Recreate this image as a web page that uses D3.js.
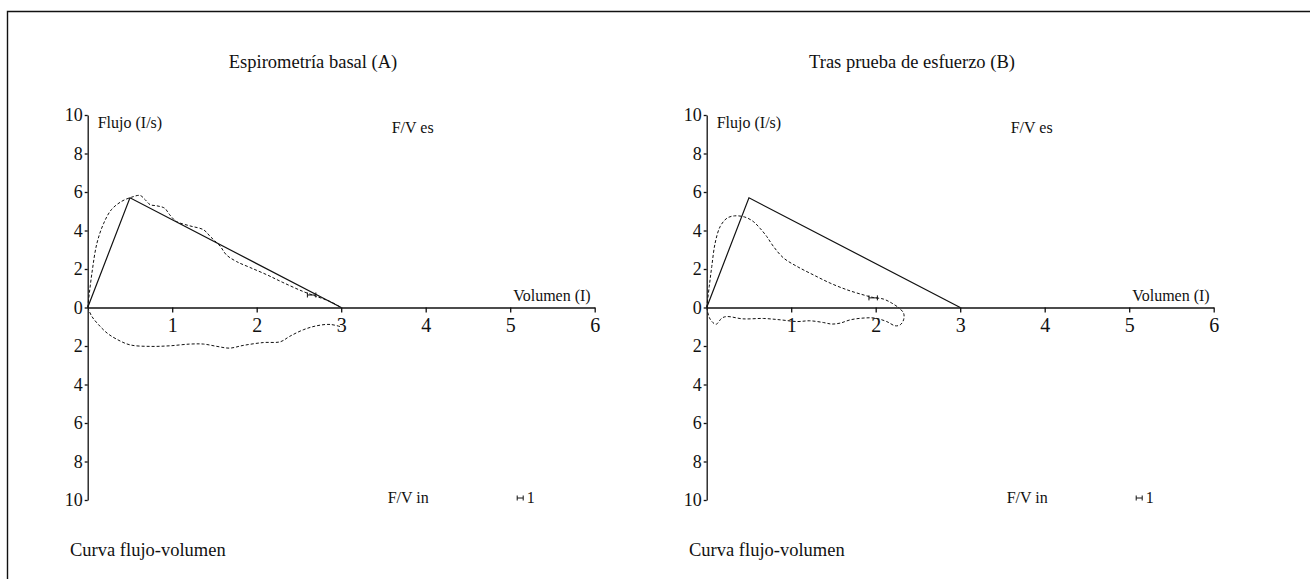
<!DOCTYPE html>
<html>
<head>
<meta charset="utf-8">
<script src="https://cdn.jsdelivr.net/npm/d3@7"></script>
<style>
  body { margin: 0; background: #fff; }
  text { font-family: "Liberation Serif", "Times New Roman", serif; fill: #111; }
</style>
</head>
<body>
<svg id="chart" width="1310" height="579"></svg>
<script>
(function (d3) {
    "use strict";

    /***** Données *****/

    const panelTitles = ["Espirometría basal (A)", "Tras prueba de esfuerzo (B)"];
    const volumeTicks = [1, 2, 3, 4, 5, 6];
    const flowTicks = [10, 8, 6, 4, 2, 0, -2, -4, -6, -8, -10];

    // courbe théorique (trait plein)
    const predictedA = [[0, 0], [0.5, 5.7], [3, 0]];
    const predictedB = [[0, 0], [0.5, 5.7], [3, 0]];

    // courbes mesurées (pointillés) : expiration puis inspiration
    const expiratoryA = [[0, 0], [0.05, 1.79], [0.11, 3.35], [0.19, 4.38], [0.28, 5.08], [0.40, 5.51],
        [0.52, 5.73], [0.62, 5.82], [0.68, 5.6], [0.74, 5.34], [0.82, 5.28], [0.91, 5.16], [0.97, 4.82],
        [1.05, 4.47], [1.21, 4.24], [1.37, 4.04], [1.45, 3.69], [1.57, 3.17], [1.64, 2.74], [1.76, 2.39],
        [1.92, 2.08], [2.12, 1.70], [2.31, 1.30], [2.55, 0.83], [2.71, 0.57], [2.87, 0.31], [2.99, 0.02]];
    const inspiratoryA = [[0, 0], [0.05, -0.47], [0.13, -0.90], [0.23, -1.33], [0.34, -1.64], [0.50, -1.94],
        [0.74, -2.02], [0.97, -1.99], [1.21, -1.90], [1.37, -1.90], [1.53, -2.02], [1.68, -2.11],
        [1.84, -1.97], [2.08, -1.82], [2.28, -1.78], [2.39, -1.50], [2.55, -1.16], [2.71, -0.95],
        [2.87, -0.88], [3.01, -1.02]];

    const expiratoryB = [[0, 0], [0.03, 1.09], [0.06, 2.13], [0.10, 3.35], [0.16, 4.21], [0.24, 4.64],
        [0.33, 4.76], [0.45, 4.70], [0.55, 4.47], [0.63, 4.12], [0.71, 3.69], [0.79, 3.17], [0.91, 2.57],
        [1.07, 2.13], [1.26, 1.70], [1.46, 1.27], [1.66, 0.92], [1.85, 0.66], [1.97, 0.52], [2.09, 0.44],
        [2.19, 0.23], [2.27, 0]];
    const inspiratoryB = [[0, 0], [0.04, -0.6], [0.11, -0.87], [0.18, -0.55], [0.24, -0.47], [0.43, -0.59],
        [0.67, -0.57], [0.87, -0.64], [1.07, -0.73], [1.22, -0.69], [1.38, -0.78], [1.48, -0.86],
        [1.58, -0.81], [1.70, -0.64], [1.85, -0.55], [1.99, -0.55], [2.13, -0.73], [2.23, -0.95],
        [2.29, -0.90], [2.33, -0.64], [2.33, -0.29], [2.27, 0]];

    // petit repère horizontal [x début, x fin, y]
    const markerA = [2.6, 2.7, 0.65];
    const markerB = [1.92, 2.02, 0.5];

    /***** Configuration *****/

    const svg = d3.select("#chart");
    const plotWidth = 507;
    const plotTop = 115;
    const plotHeight = 385;
    const panelLeft = [87.7, 706.7];
    const titleCenter = [225.3, 205.3];
    const serif = "'Liberation Serif', 'Times New Roman', serif";

    const x = d3.scaleLinear().domain([0, 6]).range([0, plotWidth]);
    const y = d3.scaleLinear().domain([-10, 10]).range([plotHeight, 0]);

    const line = d3.line()
        .x(d => x(d[0]))
        .y(d => y(d[1]));
    const smooth = d3.line()
        .x(d => x(d[0]))
        .y(d => y(d[1]))
        .curve(d3.curveCatmullRom.alpha(0.5));

    // cadre
    svg.append("path")
        .attr("d", "M7.5,579V11.5H1310")
        .attr("fill", "none")
        .attr("stroke", "#111")
        .attr("stroke-width", 1.4);

    function drawBar(g, x1, x2, yPos) {
        g.append("path")
            .attr("d", `M${x1},${yPos}H${x2}M${x1},${yPos - 2.5}V${yPos + 2.5}M${x2},${yPos - 2.5}V${yPos + 2.5}`)
            .attr("fill", "none")
            .attr("stroke", "#111")
            .attr("stroke-width", 1);
    }

    function styleAxis(a, size) {
        a.attr("font-family", serif).attr("font-size", size);
        a.selectAll("path, line").attr("stroke", "#111").attr("stroke-width", 1.3);
        a.selectAll("text")
            .style("font-family", serif)
            .style("font-size", size + "px")
            .attr("fill", "#111");
    }

    function drawPanel(i, predicted, expiratory, inspiratory, marker) {
        const g = svg.append("g")
            .attr("transform", `translate(${panelLeft[i]},${plotTop})`);

        g.append("text")
            .attr("x", titleCenter[i])
            .attr("y", -47)
            .attr("text-anchor", "middle")
            .style("font-size", "18.5px")
            .text(panelTitles[i]);

        // axes
        const yAxis = g.append("g")
            .call(d3.axisLeft(y).tickValues(flowTicks).tickFormat(d => Math.abs(d))
                .tickSize(3).tickSizeOuter(0).tickPadding(2));
        const xAxis = g.append("g")
            .attr("transform", `translate(0,${y(0)})`)
            .call(d3.axisBottom(x).tickValues(volumeTicks).tickFormat(d3.format("d"))
                .tickSize(5).tickSizeOuter(0).tickPadding(5));
        styleAxis(yAxis, 18);
        styleAxis(xAxis, 20);

        // courbes
        g.append("path")
            .attr("d", line(predicted))
            .attr("fill", "none")
            .attr("stroke", "#111")
            .attr("stroke-width", 1.2);

        [expiratory, inspiratory].forEach(data => {
            g.append("path")
                .attr("d", smooth(data))
                .attr("fill", "none")
                .attr("stroke", "#111")
                .attr("stroke-width", 1)
                .attr("stroke-dasharray", "3,2");
        });

        drawBar(g, x(marker[0]), x(marker[1]), y(marker[2]));

        // libellés
        const labels = [
            { t: "Flujo (I/s)", x: 10, y: 13, a: "start" },
            { t: "F/V es", x: 304, y: 18, a: "start" },
            { t: "Volumen (I)", x: 503, y: 186, a: "end" },
            { t: "F/V in", x: 300, y: 388, a: "start" },
            { t: "1", x: 439, y: 388, a: "start" },
            { t: "Curva flujo-volumen", x: -17.7, y: 441, a: "start", s: "18.5px" }
        ];
        g.selectAll("text.label")
            .data(labels)
            .enter()
            .append("text")
            .attr("class", "label")
            .attr("x", d => d.x)
            .attr("y", d => d.y)
            .attr("text-anchor", d => d.a)
            .style("font-size", d => d.s || "16px")
            .text(d => d.t);

        drawBar(g, 429.5, 435.5, 383);
    }

    drawPanel(0, predictedA, expiratoryA, inspiratoryA, markerA);
    drawPanel(1, predictedB, expiratoryB, inspiratoryB, markerB);

})(d3);
</script>
</body>
</html>
